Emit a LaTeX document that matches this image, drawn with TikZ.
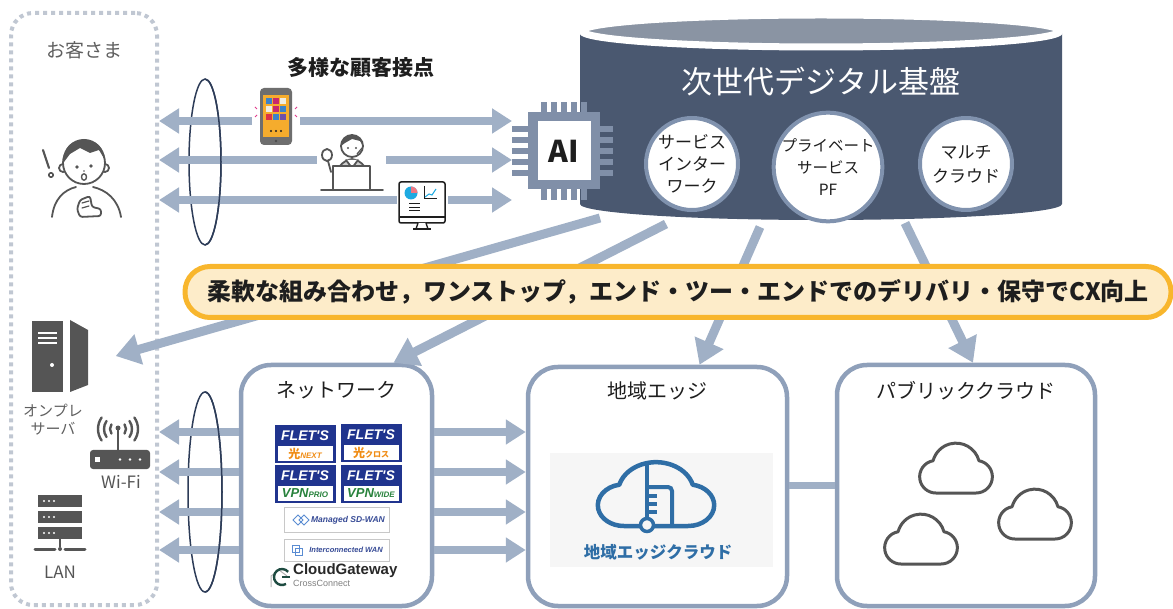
\documentclass[tikz,border=0pt]{standalone}
\usepackage{fontspec}
\setmainfont{Noto Sans CJK JP}
\newfontfamily\logofont{Liberation Sans}
\usepackage{xcolor}
\usepackage{tikz}
\usetikzlibrary{shapes.geometric, arrows.meta, positioning, calc}

\definecolor{flowBlue}{RGB}{160,176,198}
\definecolor{frameBlue}{RGB}{143,160,186}
\definecolor{slateBody}{RGB}{74,88,112}
\definecolor{slateCap}{RGB}{138,148,163}
\definecolor{ringBlue}{RGB}{128,146,174}
\definecolor{chipGray}{RGB}{128,143,168}
\definecolor{ringNavy}{RGB}{45,60,88}
\definecolor{dotGray}{RGB}{192,199,210}
\definecolor{bannerCream}{RGB}{253,236,201}
\definecolor{bannerAmber}{RGB}{248,182,45}
\definecolor{iconInk}{RGB}{85,85,85}
\definecolor{labelGray}{RGB}{95,95,95}
\definecolor{inkBlack}{RGB}{30,30,30}
\definecolor{shirtGray}{RGB}{205,205,205}
\definecolor{phoneGray}{RGB}{110,110,110}
\definecolor{phoneOrange}{RGB}{245,172,45}
\definecolor{appBlue}{RGB}{60,130,200}
\definecolor{appMag}{RGB}{200,40,110}
\definecolor{appLight}{RGB}{238,236,225}
\definecolor{appRed}{RGB}{220,50,70}
\definecolor{appPurple}{RGB}{110,80,170}
\definecolor{sparkPink}{RGB}{225,60,140}
\definecolor{pieBlue}{RGB}{30,170,225}
\definecolor{piePink}{RGB}{240,120,130}
\definecolor{fletsNavy}{RGB}{32,52,142}
\definecolor{fletsOrange}{RGB}{240,140,20}
\definecolor{fletsGreen}{RGB}{40,130,60}
\definecolor{wanNavy}{RGB}{55,75,150}
\definecolor{wanBlue}{RGB}{90,140,210}
\definecolor{wanFrame}{RGB}{200,200,200}
\definecolor{cgGreen}{RGB}{30,75,65}
\definecolor{cgDark}{RGB}{40,40,40}
\definecolor{logoBg}{RGB}{246,246,246}
\definecolor{edgeBlue}{RGB}{47,110,166}

\newcommand{\fsize}[2]{\fontsize{#1}{#2}\selectfont}

% one FLET'S badge: name, position, lower line
\newcommand{\fletsBadge}[3]{%
  \node[fletsBox] (#1) at (#2) {};
  \node[fletsHead] at ([yshift=8.5pt]#1.center) {FLET'S};
  \node[fletsFoot] at ([yshift=-9.5pt]#1.center) {#3};
}

\begin{document}
\begin{tikzpicture}[
		x=1pt, y=-1pt,
		font=\fsize{18}{22},
		flow/.style={draw=flowBlue, line width=8pt},
		flowBoth/.style={flow, {Triangle[length=20pt,width=24pt]}-{Triangle[length=20pt,width=24pt]}},
		flowLeft/.style={flow, {Triangle[length=20pt,width=24pt]}-},
		flowRight/.style={flow, -{Triangle[length=20pt,width=24pt]}},
		feed/.style={draw=flowBlue, line width=9pt, -{Triangle[length=24pt,width=30pt]}},
		groupBox/.style={draw=frameBlue, line width=4.5pt, rounded corners=30pt, fill=white},
		groupTitle/.style={font=\fsize{20}{24}, text=inkBlack},
		svcCircle/.style={circle, draw=ringBlue, line width=4pt, fill=white, minimum size=92pt, inner sep=0pt, align=center, text=inkBlack},
		sideLabel/.style={text=labelGray, align=center},
		icon/.style={draw=iconInk, line width=1.8pt, line cap=round, line join=round},
		ring/.style={draw=ringNavy, line width=1.5pt},
		fletsBox/.style={fill=fletsNavy, minimum width=61pt, minimum height=38pt, inner sep=0pt},
		fletsHead/.style={text=white, inner sep=0pt, font=\logofont\bfseries\itshape\fsize{14}{14}},
		fletsFoot/.style={fill=white, minimum width=55pt, minimum height=15pt, inner sep=0pt},
		wanBox/.style={draw=wanFrame, line width=1pt, fill=white, minimum width=105pt},
		cloudIcon/.pic={\draw[line join=round] (-16.1,-20) -- (16.1,-20) arc[start angle=-90, end angle=80, radius=13] arc[start angle=15, end angle=165, radius=19] arc[start angle=100, end angle=270, radius=13] -- cycle;}
		]
		\useasboundingbox (0,0) rectangle (1173,609);

		% Customer side
		\node[draw=dotGray, line width=4pt, dash pattern=on 4pt off 4pt, rounded corners=22pt, minimum width=146pt, minimum height=592pt] (custBox) at (84,309) {};
		\node[sideLabel, font=\fsize{19}{22}] (custLabel) at (84,50) {お客さま};
		\node[font=\bfseries\fsize{21}{24}, text=inkBlack] (touchLabel) at (361,68) {多様な顧客接点};

		% Rings (back)
		\draw[ring] (205,162) ellipse [x radius=16, y radius=83];
		\draw[ring] (205,492) ellipse [x radius=17, y radius=100];

		% Platform cylinder
		\fill[slateBody] (580,31) -- (580,204) arc[start angle=180, end angle=0, x radius=241, y radius=16] -- (1062,31) -- cycle;
		\draw[fill=slateCap, draw=white, line width=7pt] (821,31) ellipse [x radius=239, y radius=16];
		\node[text=white, font=\fsize{31}{36}] (platform) at (821,82) {次世代デジタル基盤};
		\node[svcCircle, font=\fsize{17}{22}] (svcNet) at (692,164) {サービス\\インター\\ワーク};
		\node[svcCircle, font=\fsize{15.5}{22}] (svcPF) at (828,167) {プライベート\\サービス\\PF};
		\node[svcCircle, font=\fsize{17}{24}] (svcMulti) at (966,164) {マルチ\\クラウド};

		% AI chip
		\foreach \px in {544,554,...,584}
			\fill[chipGray] (\px-3,102) rectangle (\px+3,200);
		\foreach \py in {129,140,...,173}
			\fill[chipGray] (512,\py-3) rectangle (613,\py+3);
		\node[fill=chipGray, minimum width=72pt, minimum height=77pt] (chip) at (564,151) {};
		\node[fill=white, minimum width=53pt, minimum height=59pt, font=\bfseries\fsize{30}{30}, text=inkBlack] (chipCore) at (chip) {AI};
		\coordinate (chipIn) at (512,151);

		% Touch point arrows
		\foreach \ty in {121,160,200}
			\draw[flowBoth] (custBox.east |- 0,\ty) -- (chipIn |- 0,\ty);

		% smartphone
		\fill[white] (252,85) rectangle (300,148);
		\fill[phoneGray, rounded corners=4pt] (260,88) rectangle (292,145);
		\fill[phoneOrange] (263,95) rectangle (289,137);
		\foreach \ax/\ay/\ac in {269/101/appBlue, 276/101/appMag, 283/101/appLight,
				269/109/appLight, 276/109/appMag, 283/109/appBlue,
				269/117/appRed, 276/117/appBlue, 283/117/appPurple}
			\fill[\ac] (\ax-2.6,\ay-2.6) rectangle (\ax+2.6,\ay+2.6);
		\foreach \dx in {271,276,281}
			\fill[inkBlack] (\dx,131) circle[radius=1.1];
		\fill[inkBlack!80] (276,141) circle[radius=1.3];
		\draw[sparkPink, line width=0.8pt] (255,107) -- (257,109) (255,117) -- (257,115) (297,107) -- (295,109) (297,117) -- (295,115);

		% operator
		\fill[white] (317,125) rectangle (386,195);
		\draw[icon, fill=shirtGray] (334,188) .. controls (335,167) and (342,161) .. (352,159) .. controls (362,161) and (369,167) .. (370,188) -- cycle;
		\draw[icon, fill=white] (346,160) -- (352,168) -- (358,160);
		\draw[icon, fill=white] (352,146) circle[radius=11];
		\fill[iconInk] (341,146) arc[start angle=180, end angle=360, radius=11] -- (360,141) -- (352,139) -- (345,143) -- cycle;
		\draw[iconInk, line width=1.2pt] (362,148) -- (357,154);
		\fill[iconInk] (348,148) circle[radius=1.1] (356,148) circle[radius=1.1];
		\draw[icon] (331,172) -- (328,161);
		\draw[icon, fill=white] (327,155) ellipse[x radius=5, y radius=6];
		\draw[icon, fill=white] (333,166) rectangle (370,190);
		\draw[icon] (321,190) -- (383,190);

		% monitor
		\fill[white] (397,180) rectangle (448,231);
		\draw[draw=inkBlack, line width=1.5pt, fill=white, rounded corners=2pt] (399,182) rectangle (445,223);
		\draw[inkBlack, line width=1.2pt] (399,217) -- (445,217);
		\fill[pieBlue] (411,193) circle[radius=6.5];
		\fill[piePink] (411,193) -- (411,186.5) arc[start angle=270, end angle=360, radius=6.5] -- cycle;
		\draw[inkBlack, line width=1pt] (424,186) -- (424,199) -- (437,199);
		\draw[pieBlue, line width=1pt] (425,197) -- (429,194) -- (432,195) -- (436,189);
		\foreach \ly in {204,207.5,211}
			\draw[inkBlack, line width=1pt] (409,\ly) -- (420,\ly);
		\draw[inkBlack, line width=1.3pt, fill=white] (418,223) -- (416,229) -- (428,229) -- (426,223);
		\draw[inkBlack, line width=1.3pt] (413,229) -- (431,229);

		% customer
		\draw[icon, fill=white] (63,168) circle[radius=4] (105,168) circle[radius=4];
		\draw[icon, fill=white] (84,163) circle[radius=21];
		\fill[iconInk] (63,160) arc[start angle=180, end angle=360, radius=21] -- (99,150) -- (90,153) -- (80,148) -- (70,154) -- (64,162) -- cycle;
		\fill[iconInk] (77,167) circle[radius=1.8] (91,166) circle[radius=1.8] (84,171) circle[radius=0.9];
		\draw[icon, line width=1.4pt] (84,177) ellipse[x radius=2.5, y radius=3.2];
		\draw[icon, line width=2.2pt] (43,150) -- (49,168);
		\draw[icon, line width=1.6pt] (51,175) circle[radius=2.2];
		\draw[icon] (52,217) .. controls (54,199) and (64,190) .. (76,187);
		\draw[icon] (93,187) .. controls (106,190) and (118,199) .. (121,217);
		\draw[icon, fill=white, rounded corners=2.5pt] (80,200) -- (90,196) -- (92,207) -- (101,209) -- (101,216) -- (80,217) -- (77,209) -- cycle;
		\draw[icon, line width=1.2pt] (82,203) -- (89,201) (82,208) -- (89,206);

		% Rings (front)
		\draw[ring] (205,79) arc[start angle=-90, end angle=90, x radius=16, y radius=83];

		% Service groups
		\node[groupBox, minimum width=191pt, minimum height=241pt] (netBox) at (336.5,485.5) {};
		\node[groupBox, minimum width=259pt, minimum height=239pt] (edgeBox) at (657.5,486.5) {};
		\node[groupBox, minimum width=258pt, minimum height=241pt] (cloudBox) at (966,485.5) {};
		\node[minimum width=57pt, minimum height=72pt, inner sep=0pt] (server) at (60,356) {};

		% Delivery arrows
		\coordinate (baseA) at (600,218);
		\coordinate (baseB) at (666,224);
		\coordinate (baseC) at (760,227);
		\coordinate (baseD) at (905,223);
		\draw[feed] (baseA) -- ([xshift=27pt]server.east);
		\draw[feed] (baseB) -- ([xshift=57pt]netBox.north);
		\draw[feed] (baseC) -- ([xshift=42pt]edgeBox.north);
		\draw[feed] (baseD) -- ([xshift=7pt]cloudBox.north);

		% Banner
		\node[rounded corners=25pt, fill=bannerCream, draw=bannerAmber, line width=5pt, minimum width=986pt, minimum height=51pt, font=\bfseries\fsize{24}{28}, text=inkBlack] (banner) at (678,292) {柔軟な組み合わせ，ワンストップ，エンド・ツー・エンドでのデリバリ・保守でCX向上};

		% Group titles
		\node[groupTitle, below=15pt of netBox.north] (netTitle) {ネットワーク};
		\node[groupTitle, below=13pt of edgeBox.north] (edgeTitle) {地域エッジ};
		\node[groupTitle, below=15pt of cloudBox.north] (cloudTitle) {パブリッククラウド};

		% Access arrows
		\foreach \ay in {432,472,512,550} {
			\draw[flowLeft] (custBox.east |- 0,\ay) -- (netBox.west |- 0,\ay);
			\draw[flowRight] (netBox.east |- 0,\ay) -- (edgeBox.west |- 0,\ay);
		}
		\draw[ring] (205,392) arc[start angle=-90, end angle=90, x radius=17, y radius=100];
		\draw[flow, line width=7pt] (edgeBox.east |- 0,485) -- (cloudBox.west |- 0,485);

		% on-premises server
		\fill[iconInk] (32,321) rectangle (63,392);
		\fill[iconInk] (70,320) -- (88,330) -- (88,385) -- (70,392) -- cycle;
		\draw[white, line width=2pt] (38,333) -- (57,333) (38,338) -- (57,338) (38,343) -- (57,343);
		\fill[white] (52,365) circle[radius=2];
		\node[sideLabel, font=\fsize{15}{18}] (onpremLabel) at (53,420) {オンプレ\\サーバ};

		% Wi-Fi router
		\fill[iconInk, rounded corners=3pt] (90,450) rectangle (150,469);
		\fill[white] (95,457) rectangle (100,462);
		\foreach \wx in {120,130,140}
			\fill[white] (\wx,459.5) circle[radius=1.3];
		\draw[icon, line width=2pt] (118,450) -- (118,429);
		\fill[iconInk] (118,428) circle[radius=2.5];
		\foreach \wr in {8,14,20} {
			\draw[icon, line width=2.4pt] (118,429) ++(145:\wr) arc[start angle=145, end angle=215, radius=\wr];
			\draw[icon, line width=2.4pt] (118,429) ++(-35:\wr) arc[start angle=-35, end angle=35, radius=\wr];
		}
		\node[text=iconInk, font=\fsize{17}{20}] (wifiLabel) at (121,482) {Wi-Fi};

		% LAN
		\foreach \by in {495,511,527} {
			\fill[iconInk] (38,\by) rectangle (82,\by+12);
			\foreach \bx in {44,49,54}
				\fill[white] (\bx,\by+6) circle[radius=1.2];
		}
		\draw[iconInk, line width=2.5pt] (60,539) -- (60,547);
		\draw[iconInk, line width=3pt, line cap=round] (35,549) -- (55,549) (65,549) -- (85,549);
		\fill[iconInk] (60,549) circle[radius=2];
		\node[text=iconInk, font=\fsize{17}{20}] (lanLabel) at (60,572) {LAN};

		% Network services
		\fletsBadge{fletsNext}{305,444}{\color{fletsOrange}\bfseries\fsize{12}{12}光\logofont\itshape\fsize{8}{8}NEXT}
		\fletsBadge{fletsCross}{371,443}{\color{fletsOrange}\bfseries\fsize{12}{12}光\fsize{8}{8}クロス}
		\fletsBadge{fletsPrio}{305,484}{\color{fletsGreen}\logofont\bfseries\itshape\fsize{13}{13}VPN\fsize{8}{8}PRIO}
		\fletsBadge{fletsWide}{371,484}{\color{fletsGreen}\logofont\bfseries\itshape\fsize{13}{13}VPN\fsize{8}{8}WIDE}
		\node[wanBox, minimum height=25pt] (sdwan) at (337,520) {};
		\draw[wanBlue, line width=1pt] (293,520) -- (298,515) -- (303,520) -- (298,525) -- cycle (299,520) -- (304,515) -- (309,520) -- (304,525) -- cycle;
		\node[font=\logofont\bfseries\itshape\fsize{8.5}{9}, text=wanNavy] (sdwanText) at (348,520) {Managed SD-WAN};
		\node[wanBox, minimum height=22pt] (icwan) at (337,550) {};
		\draw[wanBlue, line width=1pt] (292,545) rectangle (299,552) (295,548) rectangle (302,555);
		\node[font=\logofont\bfseries\itshape\fsize{7.5}{8}, text=wanNavy] (icwanText) at (346,550) {Interconnected WAN};
		\draw[gray!60, line width=1pt] (271,587) -- (271,576) -- (279,570) -- (287,576);
		\draw[cgGreen, line width=2.4pt] (282,577) ++(-40:8) arc[start angle=-40, end angle=-300, radius=8];
		\draw[cgGreen, line width=2.4pt] (282,577) -- (290,577);
		\node[anchor=west, inner sep=0pt, font=\logofont\bfseries\fsize{15}{15}, text=cgDark] (cgName) at (293,571) {CloudGateway};
		\node[anchor=west, inner sep=0pt, font=\logofont\fsize{9}{9}, text=gray] (cgSub) at (293,583) {CrossConnect};

		% Edge cloud logo
		\fill[logoBg] (550,453) rectangle (773,567);
		\pic[edgeBlue, line width=4.5pt, xscale=2.0, yscale=-1.6] (edgeCloud) at (656,494) {cloudIcon};
		\draw[edgeBlue, line width=4pt] (647,464) -- (647,519);
		\draw[edgeBlue, line width=4pt, rounded corners=4pt] (647,487) -- (672,487) -- (672,525);
		\draw[edgeBlue, line width=3.5pt] (647,496) -- (657,496) (647,504) -- (657,504) (647,512) -- (657,512);
		\draw[edgeBlue, line width=3.5pt, fill=logoBg] (647,525) circle[radius=6.5];
		\node[font=\bfseries\fsize{16.5}{18}, text=edgeBlue] (edgeLogoText) at (658,552) {地域エッジクラウド};

		% Public clouds
		\pic[iconInk, line width=3pt, scale=1.25, yscale=-1] (cloudA) at (956,468) {cloudIcon};
		\pic[iconInk, line width=3pt, scale=1.25, yscale=-1] (cloudB) at (1035,514) {cloudIcon};
		\pic[iconInk, line width=3pt, scale=1.25, yscale=-1] (cloudC) at (921,539) {cloudIcon};

	\end{tikzpicture}
\end{document}
